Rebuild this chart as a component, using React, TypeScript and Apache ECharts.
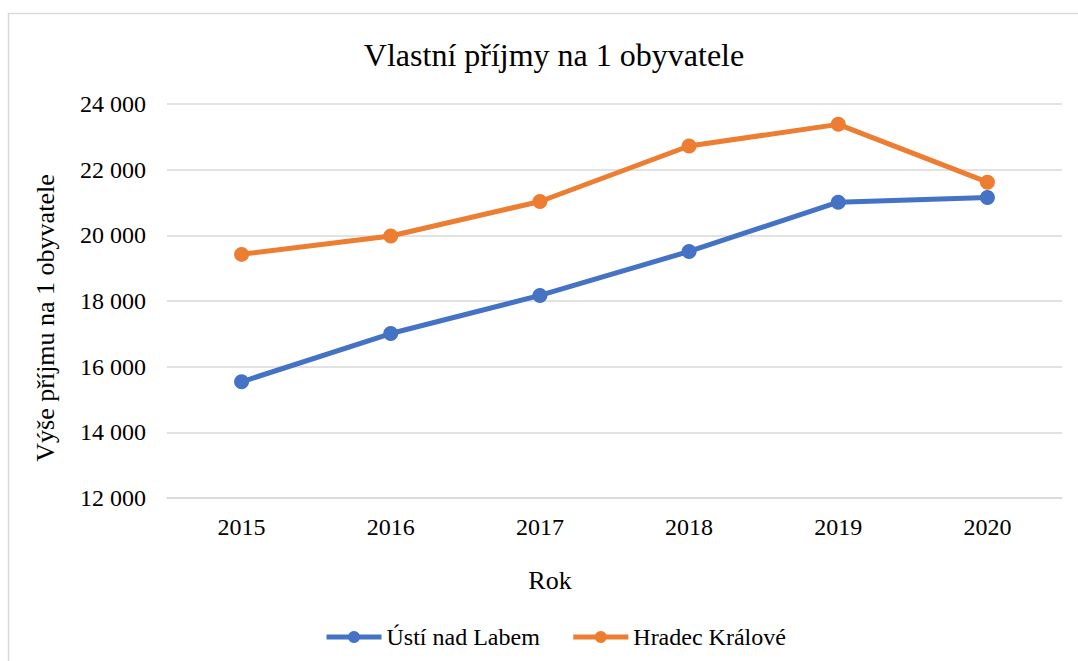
import React, { useEffect, useRef } from "react";
import * as echarts from "echarts";

const years = ["2015", "2016", "2017", "2018", "2019", "2020"];
const usti = [15540, 17010, 18170, 19510, 21010, 21150];
const hradec = [19420, 19980, 21030, 22720, 23380, 21620];
const seriesNames = ["Ústí nad Labem", "Hradec Králové"];
const titleText = "Vlastní příjmy na 1 obyvatele";
const yAxisTitle = "Výše příjmu na 1 obyvatele";
const xAxisTitle = "Rok";

const FONT = "Liberation Serif";

export default function App() {
  const ref = useRef<HTMLDivElement>(null);
  useEffect(() => {
    if (!ref.current) return;
    const chart = echarts.init(ref.current, null, { renderer: "svg" });
    chart.setOption({
      animation: false,
      backgroundColor: "#ffffff",
      textStyle: { fontFamily: FONT, color: "#000" },
      title: {
        text: titleText,
        left: 549,
        top: 34,
        textAlign: "center",
        textStyle: { fontFamily: FONT, fontSize: 32, fontWeight: "normal", color: "#000" },
      },
      legend: {
        left: 319,
        top: 620,
        itemWidth: 55,
        itemHeight: 15,
        itemGap: 31,
        lineStyle: { width: 5 },
        textStyle: { fontFamily: FONT, fontSize: 24, color: "#000" },
        data: seriesNames,
      },
      grid: { left: 167, right: 16, top: 104, bottom: 163 },
      xAxis: {
        type: "category",
        data: years,
        boundaryGap: true,
        axisLine: { show: true, lineStyle: { color: "#D9D9D9", width: 1.5 } },
        axisTick: { show: false },
        axisLabel: { fontFamily: FONT, fontSize: 24, color: "#000", margin: 17 },
      },
      yAxis: {
        type: "value",
        min: 12000,
        max: 24000,
        interval: 2000,
        axisLine: { show: false },
        axisTick: { show: false },
        splitLine: { lineStyle: { color: "#D9D9D9", width: 1.5 } },
        axisLabel: {
          fontFamily: FONT,
          fontSize: 24,
          color: "#000",
          margin: 21,
          formatter: (v: number) => String(v).replace(/\B(?=(\d{3})+(?!\d))/g, " "),
        },
      },
      graphic: [
        {
          type: "rect",
          shape: { x: 8.5, y: 13.5, width: 1200, height: 800 },
          style: { fill: "none", stroke: "#D9D9D9", lineWidth: 1.5 },
          silent: true,
          z: -10,
        },
        {
          type: "text",
          x: 45,
          y: 318,
          rotation: Math.PI / 2,
          style: {
            text: yAxisTitle,
            fontFamily: FONT,
            fontSize: 26,
            fill: "#000",
            align: "center",
            verticalAlign: "middle",
          },
        },
        {
          type: "text",
          x: 550,
          y: 580,
          style: {
            text: xAxisTitle,
            fontFamily: FONT,
            fontSize: 26,
            fill: "#000",
            align: "center",
            verticalAlign: "middle",
          },
        },
      ],
      series: [
        {
          name: seriesNames[0],
          type: "line",
          data: usti,
          symbol: "circle",
          symbolSize: 15,
          itemStyle: { color: "#4472C4" },
          lineStyle: { color: "#4472C4", width: 5 },
        },
        {
          name: seriesNames[1],
          type: "line",
          data: hradec,
          symbol: "circle",
          symbolSize: 15,
          itemStyle: { color: "#ED7D31" },
          lineStyle: { color: "#ED7D31", width: 5 },
        },
      ],
    });
    return () => chart.dispose();
  }, []);
  return (
    <div
      ref={ref}
      style={{ position: "fixed", left: 0, top: 0, width: 1078, height: 661 }}
    />
  );
}
